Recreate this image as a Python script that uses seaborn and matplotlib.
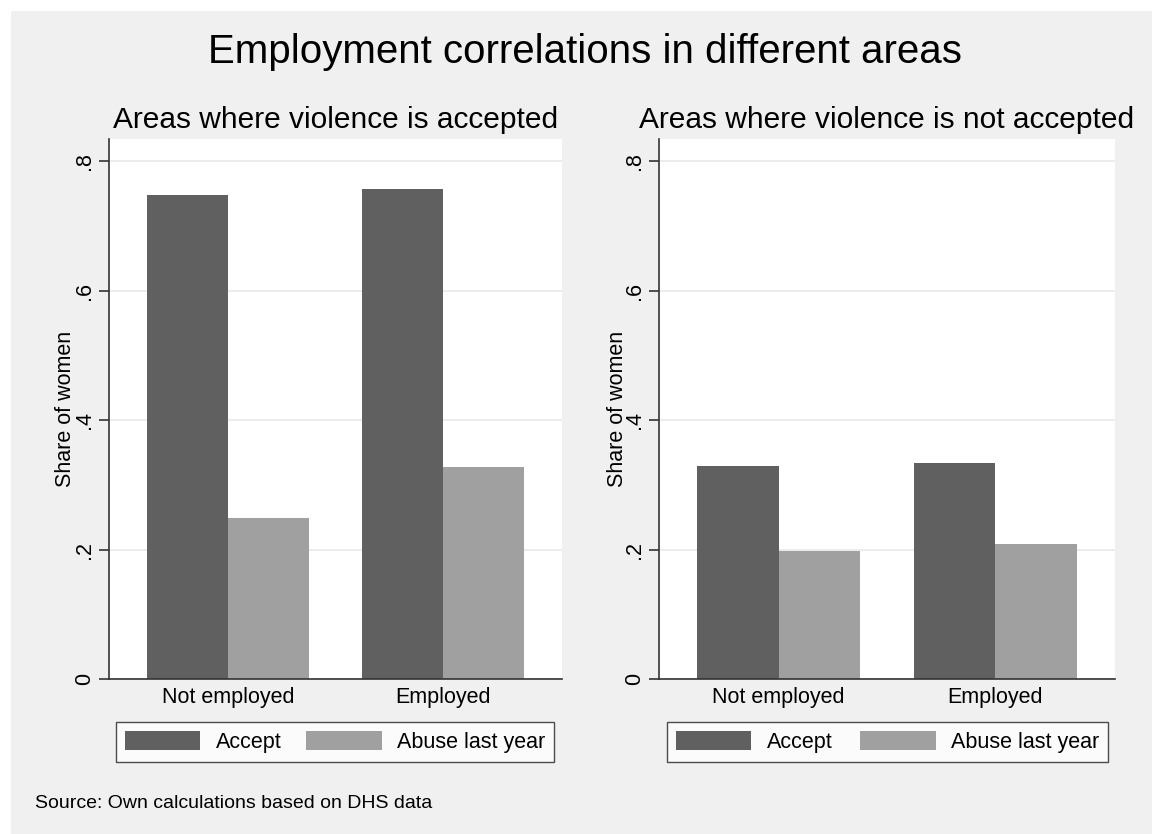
import matplotlib
matplotlib.use("Agg")
import matplotlib.pyplot as plt
from matplotlib.patches import Patch, Rectangle
import pandas as pd
import seaborn as sns

# Categories and series
categories = ["Not employed", "Employed"]
series = ["Accept", "Abuse last year"]

# Share of women, areas where violence is accepted
accepted_accept = [0.748, 0.757]
accepted_abuse = [0.249, 0.328]

# Share of women, areas where violence is not accepted
not_accepted_accept = [0.329, 0.334]
not_accepted_abuse = [0.197, 0.209]

panel_titles = ["Areas where violence is accepted", "Areas where violence is not accepted"]
ytick_values = [0, 0.2, 0.4, 0.6, 0.8]
ytick_labels = ["0", ".2", ".4", ".6", ".8"]

colors = ["#606060", "#a0a0a0"]
bg = "#f0f0f0"


def long_frame(accept, abuse):
    rows = []
    for cat, a, b in zip(categories, accept, abuse):
        rows.append({"employment": cat, "measure": series[0], "share": a})
        rows.append({"employment": cat, "measure": series[1], "share": b})
    return pd.DataFrame(rows)


frames = [long_frame(accepted_accept, accepted_abuse),
          long_frame(not_accepted_accept, not_accepted_abuse)]

sns.set_theme(style="white")
plt.rcParams["font.family"] = ["Liberation Sans", "DejaVu Sans"]
plt.rcParams["text.color"] = "black"
plt.rcParams["axes.labelcolor"] = "black"
plt.rcParams["xtick.color"] = "black"
plt.rcParams["ytick.color"] = "black"

W, H = 1152, 834
fig = plt.figure(figsize=(W / 100, H / 100), dpi=100, facecolor="white")
fig.patches.append(Rectangle((11 / W, 0), 1 - 11 / W, 1 - 11 / H,
                             transform=fig.transFigure, facecolor=bg,
                             edgecolor="none", zorder=-10))

# Axes boxes in pixels: (left, right)
axes_px = [(109, 562), (659, 1115)]
legend_px = [(116, 554), (667, 1108)]
top_px, bottom_px = 139, 679
ylabel_x = [-0.097, -0.092]

for i, (df, (x0, x1)) in enumerate(zip(frames, axes_px)):
    ax = fig.add_axes([x0 / W, 1 - bottom_px / H, (x1 - x0) / W,
                       (bottom_px - top_px) / H])
    ax.set_facecolor("white")
    sns.barplot(data=df, x="employment", y="share", hue="measure",
                order=categories, hue_order=series, palette=colors,
                saturation=1, width=0.754, gap=0, linewidth=0,
                legend=False, ax=ax, errorbar=None)
    ax.set_xlim(-0.553, 1.553)
    ax.set_ylim(0, 0.834)
    ax.set_yticks(ytick_values)
    ax.set_yticklabels(ytick_labels, rotation=90, va="center", fontsize=15.5)
    ax.yaxis.grid(True, color="#eaeaea", linewidth=1.3)
    ax.set_axisbelow(True)
    for s in ("top", "right"):
        ax.spines[s].set_visible(False)
    for s in ("left", "bottom"):
        ax.spines[s].set_color("#333333")
        ax.spines[s].set_linewidth(1.2)
    ax.tick_params(axis="y", left=True, length=7, width=1.2, color="#333333",
                   pad=3, labelcolor="black")
    ax.tick_params(axis="x", bottom=False, length=0, pad=6, labelsize=15.5,
                   labelcolor="black")
    ax.set_xlabel("")
    ax.set_ylabel("Share of women", fontsize=15.5, va="center", color="black")
    ax.yaxis.set_label_coords(ylabel_x[i], 0.5)
    ax.set_title(panel_titles[i], fontsize=21.5, pad=8, color="black")

    lx0, lx1 = legend_px[i]
    handles = [Patch(facecolor=c, edgecolor="none", label=s)
               for c, s in zip(colors, series)]
    leg = ax.legend(handles=handles, ncol=2, mode="expand",
                    bbox_to_anchor=(lx0 / W, 1 - 762 / H, (lx1 - lx0) / W, 40 / H),
                    bbox_transform=fig.transFigure, loc="center",
                    fontsize=15.5, handlelength=3.5, handleheight=1.0,
                    handletextpad=0.7, borderpad=0.42, borderaxespad=0,
                    columnspacing=1.0, fancybox=False, frameon=True)
    leg.get_frame().set_edgecolor("#222222")
    leg.get_frame().set_linewidth(1.0)
    leg.get_frame().set_facecolor("white")
    for t in leg.get_texts():
        t.set_color("black")

fig.text(585 / W, 1 - 52 / H, "Employment correlations in different areas",
         ha="center", va="center", fontsize=29, color="black")
fig.text(35 / W, 1 - 803 / H, "Source: Own calculations based on DHS data",
         ha="left", va="center", fontsize=14, color="black")

fig.savefig("out.png", dpi=100, facecolor="white")
